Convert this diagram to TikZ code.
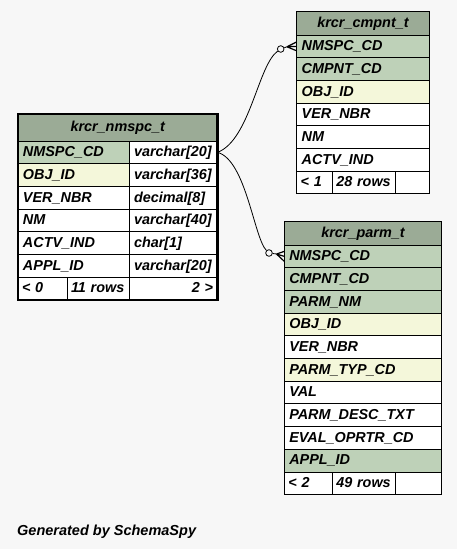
\documentclass[tikz,border=0pt]{standalone}
\usepackage{fontspec}
\setmainfont{Liberation Sans}
\usetikzlibrary{calc}
\definecolor{headcol}{HTML}{9BAB96}
\definecolor{pkcol}{HTML}{BED1B8}
\definecolor{idxcol}{HTML}{F4F7DA}
\definecolor{bgcol}{HTML}{F7F7F7}
\tikzset{
  cell/.style={draw, line width=1pt, fill=white, anchor=north west, outer sep=0pt,
    inner xsep=5pt, inner ysep=0pt, minimum height=22.7pt, text height=10.5pt,
    text depth=2pt, align=left, font=\bfseries\itshape\fontsize{14.4}{17}\selectfont},
  head/.style={cell, fill=headcol, align=center, minimum height=23.3pt},
  foot/.style={cell, inner xsep=4pt},
  pk/.style={fill=pkcol},
  idx/.style={fill=idxcol},
  odot/.style={circle, draw, line width=0.8pt, fill=bgcol, minimum size=6.6pt, inner sep=0pt},
  crow/.style={line width=1.2pt},
  link/.style={line width=0.8pt}
}
\begin{document}
\begin{tikzpicture}[x=1pt,y=-1pt]
\fill[bgcol] (0,0) rectangle (457,549);
\useasboundingbox (0,0) rectangle (457,549);

% krcr_nmspc_t
\node[head, minimum width=199.5pt, text width=189.5pt, minimum height=27pt] (nmspc) at (18,114) {krcr\_nmspc\_t};
\node[cell, pk, minimum width=111pt, text width=101pt] (nm1a) at (18,141) {NMSPC\_CD};
\node[cell, minimum width=88.5pt, text width=78.5pt] (nm1b) at (129,141) {varchar[20]};
\node[cell, idx, minimum width=111pt, text width=101pt] (nm2a) at (18,163.7) {OBJ\_ID};
\node[cell, minimum width=88.5pt, text width=78.5pt] (nm2b) at (129,163.7) {varchar[36]};
\node[cell, minimum width=111pt, text width=101pt] (nm3a) at (18,186.4) {VER\_NBR};
\node[cell, minimum width=88.5pt, text width=78.5pt] (nm3b) at (129,186.4) {decimal[8]};
\node[cell, minimum width=111pt, text width=101pt] (nm4a) at (18,209.1) {NM};
\node[cell, minimum width=88.5pt, text width=78.5pt] (nm4b) at (129,209.1) {varchar[40]};
\node[cell, minimum width=111pt, text width=101pt] (nm5a) at (18,231.8) {ACTV\_IND};
\node[cell, minimum width=88.5pt, text width=78.5pt] (nm5b) at (129,231.8) {char[1]};
\node[cell, minimum width=111pt, text width=101pt] (nm6a) at (18,254.5) {APPL\_ID};
\node[cell, minimum width=88.5pt, text width=78.5pt] (nm6b) at (129,254.5) {varchar[20]};
\node[foot, minimum width=49pt, text width=41pt] (nm7a) at (18,277.2) {<~0};
\node[foot, minimum width=62pt, text width=54pt] (nm7b) at (67,277.2) {11~rows};
\node[foot, align=right, minimum width=88.5pt, text width=79.5pt] (nm7c) at (129,277.2) {2~>};
\draw[line width=2.7pt] (nmspc.north west) rectangle (nm7c.south east);

% krcr_cmpnt_t
\node[head, minimum width=132.6pt, text width=122.6pt] (cmpnt) at (296.7,11.7) {krcr\_cmpnt\_t};
\node[cell, pk, minimum width=132.6pt, text width=122.6pt] (cm1a) at (296.7,35) {NMSPC\_CD};
\node[cell, pk, minimum width=132.6pt, text width=122.6pt] (cm2a) at (296.7,57.7) {CMPNT\_CD};
\node[cell, idx, minimum width=132.6pt, text width=122.6pt] (cm3a) at (296.7,80.4) {OBJ\_ID};
\node[cell, minimum width=132.6pt, text width=122.6pt] (cm4a) at (296.7,103.1) {VER\_NBR};
\node[cell, minimum width=132.6pt, text width=122.6pt] (cm5a) at (296.7,125.8) {NM};
\node[cell, minimum width=132.6pt, text width=122.6pt] (cm6a) at (296.7,148.5) {ACTV\_IND};
\node[foot, minimum width=35.6pt, text width=27.6pt] (cm7a) at (296.7,171.2) {<~1};
\node[foot, minimum width=63.4pt, text width=55.4pt] (cm7b) at (332.3,171.2) {28~rows};
\node[foot, minimum width=33.6pt, text width=25.6pt] (cm7c) at (395.7,171.2) {};

% krcr_parm_t
\node[head, minimum width=157.4pt, text width=147.4pt] (parm) at (284.3,221.7) {krcr\_parm\_t};
\node[cell, pk, minimum width=157.4pt, text width=147.4pt] (pa1a) at (284.3,245) {NMSPC\_CD};
\node[cell, pk, minimum width=157.4pt, text width=147.4pt] (pa2a) at (284.3,267.7) {CMPNT\_CD};
\node[cell, pk, minimum width=157.4pt, text width=147.4pt] (pa3a) at (284.3,290.4) {PARM\_NM};
\node[cell, idx, minimum width=157.4pt, text width=147.4pt] (pa4a) at (284.3,313.1) {OBJ\_ID};
\node[cell, minimum width=157.4pt, text width=147.4pt] (pa5a) at (284.3,335.8) {VER\_NBR};
\node[cell, idx, minimum width=157.4pt, text width=147.4pt] (pa6a) at (284.3,358.5) {PARM\_TYP\_CD};
\node[cell, minimum width=157.4pt, text width=147.4pt] (pa7a) at (284.3,381.2) {VAL};
\node[cell, minimum width=157.4pt, text width=147.4pt] (pa8a) at (284.3,403.9) {PARM\_DESC\_TXT};
\node[cell, minimum width=157.4pt, text width=147.4pt] (pa9a) at (284.3,426.6) {EVAL\_OPRTR\_CD};
\node[cell, pk, minimum width=157.4pt, text width=147.4pt] (pa10a) at (284.3,449.3) {APPL\_ID};
\node[foot, minimum width=48pt, text width=40pt] (pa11a) at (284.3,472) {<~2};
\node[foot, minimum width=63.4pt, text width=55.4pt] (pa11b) at (332.3,472) {49~rows};
\node[foot, minimum width=46pt, text width=38pt] (pa11c) at (395.7,472) {};

% links
\node[odot] (o1) at (280.7,49) {};
\node[odot] (o2) at (269,253) {};
\draw[link] (nm1b.east) .. controls (250,140) and (258,65) .. (o1);
\draw[link] (nm1b.east) .. controls (246,160) and (254,238) .. (o2);
\coordinate (t1) at (287,46.8);
\coordinate (t2) at (276.5,254);
\draw[link] (o1) -- (t1);
\draw[link] (o2) -- (t2);
\draw[crow] (t1) -- ([yshift=4.5pt]cm1a.west) (t1) -- (cm1a.west) (t1) -- ([yshift=-4.5pt]cm1a.west);
\draw[crow] (t2) -- ([yshift=5pt]pa1a.west) (t2) -- (pa1a.west) (t2) -- ([yshift=-5pt]pa1a.west);

\node[anchor=base west, inner sep=0pt, font=\bfseries\itshape\fontsize{14.5}{17}\selectfont] (gen) at (17,535) {Generated by SchemaSpy};
\end{tikzpicture}
\end{document}
